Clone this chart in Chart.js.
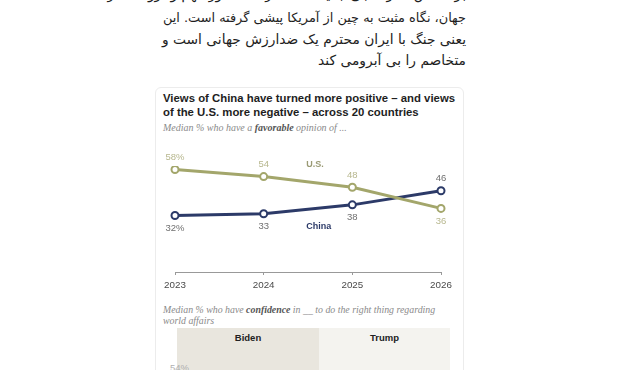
<!DOCTYPE html>
<html>
<head>
<meta charset="utf-8">
<script src="https://cdn.jsdelivr.net/npm/chart.js@4.4.1/dist/chart.umd.min.js"></script>
<style>
  html, body { margin:0; padding:0; background:#fff; }
  body { width:620px; height:370px; position:relative; overflow:hidden; }
  .fa { position:absolute; right:154px; direction:rtl; white-space:nowrap; font-family:"DejaVu Sans", sans-serif; font-size:14px; line-height:20px; height:20px; color:#1e1e1e; }
  .card { position:absolute; left:155px; top:87px; width:307px; height:320px; border:1px solid #ececec; border-radius:6px; }
  .title { position:absolute; left:163px; white-space:nowrap; font-family:"Liberation Sans", Arial, sans-serif; font-weight:bold; font-size:10.6px; line-height:14px; color:#1e1e1e; }
  .sub { position:absolute; left:163px; white-space:nowrap; font-family:"Liberation Serif", serif; font-style:italic; font-size:9.5px; line-height:10.5px; color:#8a8a8a; }
  .sub b { color:#555; }
  .panel { position:absolute; top:328px; height:50px; font-family:"Liberation Sans", Arial, sans-serif; font-weight:bold; font-size:9.5px; color:#222; text-align:center; line-height:20px; }
  #wrap { position:absolute; left:150px; top:140px; width:320px; height:160px; }
</style>
</head>
<body>
<div class="fa" id="fa1" style="top:-16px">بر اساس نظرسنجی جدید <b>Pew</b> در ۲۵ کشور مهم و ثروتمند در</div>
<div class="fa" id="fa2" style="top:8px">جهان، نگاه مثبت به چین از آمریکا پیشی گرفته است. این</div>
<div class="fa" id="fa3" style="top:29px">یعنی جنگ با ایران محترم یک ضدارزش جهانی است و</div>
<div class="fa" id="fa4" style="top:50px">متخاصم را بی آبرومی کند</div>

<div class="card"></div>
<div class="title" id="t1" style="top:91px">Views of China have turned more positive – and views</div>
<div class="title" id="t2" style="top:105px">of the U.S. more negative – across 20 countries</div>
<div class="sub" id="s1" style="top:123px">Median % who have a <b>favorable</b> opinion of ...</div>

<div id="wrap"><canvas id="c"></canvas></div>

<div class="sub" id="s2" style="top:305px"><span id="s2a">Median % who have <b>confidence</b> in __ to do the right thing regarding</span><br>world affairs</div>
<div class="panel" style="left:177px;width:142px;background:#e9e6de;">Biden</div>
<div class="panel" style="left:319px;width:131px;background:#f4f3ef;">Trump</div>
<div style="position:absolute;left:170px;top:362px;font-family:'Liberation Sans',sans-serif;font-size:9.5px;color:#b0b0b0;">54%</div>

<script>
// ---- data ----
const years = ['2023', '2024', '2025', '2026'];
const usFavorable = [58, 54, 48, 36];
const chinaFavorable = [32, 33, 38, 46];
const seriesNames = ['U.S.', 'China'];

// ---- fit text widths ----
function fit(id, w, target) {
  const el = document.getElementById(id);
  const t = target ? document.getElementById(target) : el;
  let fs = parseFloat(getComputedStyle(t).fontSize);
  for (let i = 0; i < 6; i++) {
    const cw = el.getBoundingClientRect().width;
    fs = fs * w / cw;
    t.style.fontSize = fs + 'px';
  }
  return fs;
}
const faSize = fit('fa3', 304);
fit('fa2', 303);
document.getElementById('fa1').style.fontSize = faSize + 'px';
document.getElementById('fa4').style.fontSize = faSize + 'px';
fit('t1', 292);
document.getElementById('t2').style.fontSize = document.getElementById('t1').style.fontSize;
fit('s1', 184);
fit('s2a', 272, 's2');

const US = '#a3a66b', CN = '#2c3a68';

const labelPlugin = {
  id: 'labels',
  afterDatasetsDraw(chart) {
    const ctx = chart.ctx;
    ctx.save();
    ctx.textAlign = 'center';
    ctx.textBaseline = 'middle';
    ctx.font = '9.5px "Liberation Sans", Arial, sans-serif';
    chart.data.datasets.forEach((ds, di) => {
      const meta = chart.getDatasetMeta(di);
      const last = ds.data.length - 1;
      meta.data.forEach((pt, i) => {
        const isUS = di === 0;
        let above = isUS ? i !== last : i === last;
        const dy = above ? -12 : 13;
        ctx.fillStyle = isUS ? '#b7b78e' : '#6f6f6f';
        ctx.fillText(ds.data[i] + (i === 0 ? '%' : ''), pt.x, pt.y + dy);
      });
    });
    // series names
    const xs = chart.scales.x, ys = chart.scales.y;
    const x1 = xs.getPixelForValue(1), x2 = xs.getPixelForValue(2);
    ctx.font = 'bold 9px "Liberation Sans", Arial, sans-serif';
    ctx.fillStyle = '#9a9a74';
    ctx.fillText(seriesNames[0], x1 + 0.58 * (x2 - x1), ys.getPixelForValue(61));
    ctx.fillStyle = CN;
    ctx.fillText(seriesNames[1], x1 + 0.62 * (x2 - x1), ys.getPixelForValue(26));
    ctx.restore();
  }
};

new Chart(document.getElementById('c'), {
  type: 'line',
  data: {
    labels: years,
    datasets: [
      { label: seriesNames[0], data: usFavorable, borderColor: US, borderWidth: 3,
        pointRadius: 3.5, pointBorderWidth: 2, pointBackgroundColor: '#fff', pointBorderColor: US, tension: 0 },
      { label: seriesNames[1], data: chinaFavorable, borderColor: CN, borderWidth: 3,
        pointRadius: 3.5, pointBorderWidth: 2, pointBackgroundColor: '#fff', pointBorderColor: CN, tension: 0 }
    ]
  },
  options: {
    responsive: true,
    maintainAspectRatio: false,
    animation: false,
    layout: { padding: { top: 26, left: 25, right: 29, bottom: 0 } },
    plugins: { legend: { display: false }, tooltip: { enabled: false } },
    scales: {
      x: {
        offset: false,
        grid: { display: true, drawOnChartArea: false, drawTicks: true, tickLength: 3, color: '#999' },
        border: { display: true, color: '#999', width: 1 },
        ticks: { color: '#4a4a4a', font: { size: 9.8, family: '"Liberation Sans", Arial, sans-serif' }, padding: 4, maxRotation: 0, autoSkip: false },
        afterFit(s) { s.height = 28; }
      },
      y: { display: false, min: 0, max: 60 }
    }
  },
  plugins: [labelPlugin]
});
</script>
</body>
</html>
